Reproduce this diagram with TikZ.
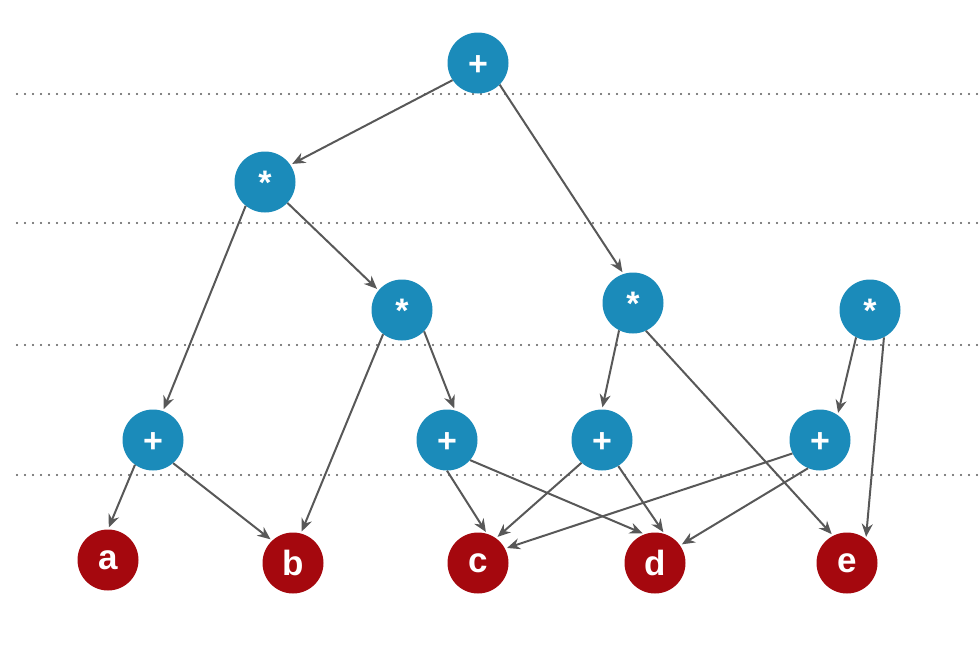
\documentclass[tikz,border=0pt]{standalone}
\usepackage{fontspec}
\setmainfont{Liberation Sans}
\usetikzlibrary{arrows.meta}
\definecolor{opblue}{RGB}{27,139,186}
\definecolor{leafred}{RGB}{165,8,14}
\definecolor{edgegray}{RGB}{88,88,88}
\begin{document}
\begin{tikzpicture}[
  x=1pt, y=-1pt,
  op/.style={circle, fill=opblue, text=white, minimum size=61pt, inner sep=0pt,
    font=\fontsize{34}{38}\selectfont\bfseries, text height=24pt, text depth=0pt},
  leaf/.style={circle, fill=leafred, text=white, minimum size=61pt, inner sep=0pt,
    font=\fontsize{35}{38}\selectfont\bfseries, text height=18pt, text depth=0pt},
  tall/.style={text height=25pt},
  edge/.style={-{Stealth[length=13pt,width=11pt]}, draw=edgegray, line width=2pt,
    shorten >=2pt},
  level/.style={draw=edgegray, line width=2.4pt, line cap=round,
    dash pattern=on 0pt off 8pt}
]
\useasboundingbox (0,0) rectangle (980,651);
% level separators
\foreach \y in {94,223,345,475}
  \draw[level] (17,\y) -- (980,\y);

% operators
\node[op] (root) at (478,63) {+};
\node[op] (mulA) at (265,182) {*};
\node[op] (mulB) at (402,310) {*};
\node[op] (mulC) at (633,303) {*};
\node[op] (mulD) at (870,310) {*};
\node[op] (addA) at (153,440) {+};
\node[op] (addB) at (447,440) {+};
\node[op] (addC) at (602,440) {+};
\node[op] (addD) at (820,440) {+};

% operands
\node[leaf] (a) at (108,560) {a};
\node[leaf, tall] (b) at (293,563) {b};
\node[leaf] (c) at (478,563) {c};
\node[leaf, tall] (d) at (655,563) {d};
\node[leaf] (e) at (847,563) {e};

\draw[edge] (root.214) -- (mulA.34);
\draw[edge] (root.315) -- (mulC.108);
\draw[edge] (mulA.231) -- (addA.71);
\draw[edge] (mulA.317) -- (mulB.140);
\draw[edge] (mulB.232) -- (b.75);
\draw[edge] (mulB.316) -- (addB.75);
\draw[edge] (mulC.243) -- (addC.90);
\draw[edge] (mulC.295) -- (e.117);
\draw[edge] (mulD.243) -- (addD.55);
\draw[edge] (mulD.297) -- (e.52);
\draw[edge] (addA.234) -- (a.90);
\draw[edge] (addA.311) -- (b.133);
\draw[edge] (addB.270) -- (c.73);
\draw[edge] (addB.319) -- (d.110);
\draw[edge] (addC.228) -- (c.54);
\draw[edge] (addC.302) -- (d.72);
\draw[edge] (addD.206) -- (c.28);
\draw[edge] (addD.247) -- (d.35);
\end{tikzpicture}
\end{document}
